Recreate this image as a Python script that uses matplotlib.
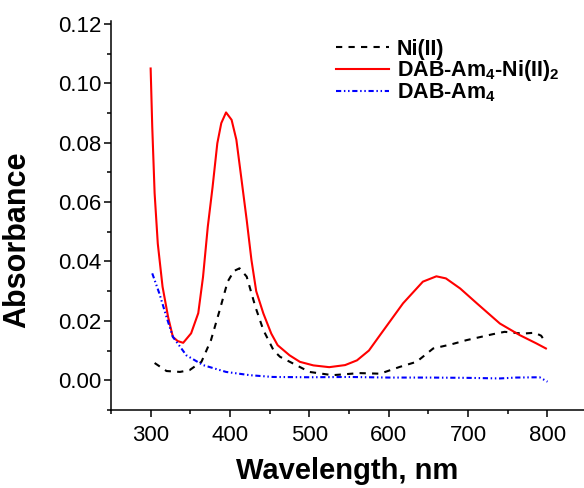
import matplotlib
matplotlib.use("Agg")
import matplotlib.pyplot as plt
from matplotlib.ticker import MultipleLocator, FormatStrFormatter

plt.rcParams["font.family"] = ["Liberation Sans", "DejaVu Sans"]
plt.rcParams["mathtext.fontset"] = "custom"
plt.rcParams["mathtext.rm"] = "Liberation Sans:bold"
plt.rcParams["mathtext.it"] = "Liberation Sans:bold"
plt.rcParams["mathtext.bf"] = "Liberation Sans:bold"

# Ni(II) alone
ni_wl = [305, 320, 337, 349, 364, 376, 387, 397, 405, 412, 421, 432, 442, 455,
         463, 479, 500, 529, 563, 589, 614, 635, 656, 679, 698, 731, 746, 769,
         784, 792, 798]
ni_abs = [0.0058, 0.0031, 0.0028, 0.0034, 0.0062, 0.0135, 0.0236, 0.0332, 0.0368,
          0.0377, 0.0349, 0.0247, 0.0169, 0.0100, 0.0079, 0.0057, 0.0028, 0.0017,
          0.0024, 0.0022, 0.0045, 0.0062, 0.0107, 0.0121, 0.0135, 0.0155, 0.0163,
          0.0157, 0.0160, 0.0150, 0.0126]

# DAB-Am4-Ni(II)2 complex
cx_wl = [300, 302, 305, 309, 315, 322, 328, 334, 341, 351, 360, 366, 372, 378,
         384, 389, 395, 402, 408, 414, 421, 427, 433, 442, 452, 460, 475, 488,
         505, 525, 545, 560, 575, 589, 618, 643, 660, 672, 690, 711, 740, 765,
         786, 798]
cx_abs = [0.105, 0.0855, 0.063, 0.046, 0.0315, 0.0213, 0.0146, 0.0132, 0.0126,
          0.0158, 0.0226, 0.0348, 0.0517, 0.0650, 0.0798, 0.0866, 0.0902, 0.0877,
          0.0810, 0.0686, 0.0540, 0.0405, 0.0300, 0.0225, 0.0157, 0.0118, 0.0084,
          0.0062, 0.0050, 0.0044, 0.0051, 0.0067, 0.0100, 0.0152, 0.0259, 0.0332,
          0.0350, 0.0343, 0.0309, 0.0259, 0.0191, 0.0152, 0.0124, 0.0107]

# DAB-Am4 dendrimer alone
dab_wl = [302, 311, 320, 328, 345, 366, 395, 425, 454, 500, 550, 600, 650,
          700, 740, 760, 790, 800]
dab_abs = [0.0360, 0.0292, 0.0213, 0.0146, 0.0084, 0.0051, 0.0028, 0.0017, 0.0011,
           0.0010, 0.0011, 0.0009, 0.0009, 0.0008, 0.0006, 0.0009, 0.0010, -0.0005]

fig = plt.figure(figsize=(5.84, 4.88), dpi=100)
ax = fig.add_axes([0.190, 0.160, 0.810, 0.797])

ax.plot(ni_wl, ni_abs, color="black", lw=1.5, linestyle=(0, (3, 3)), label="Ni(II)")
ax.plot(cx_wl, cx_abs, color="#ff0000", lw=1.5,
        label=r"DAB-Am$_4$-Ni(II)$_2$")
ax.plot(dab_wl, dab_abs, color="#0000ff", lw=1.5,
        linestyle=(0, (2.5, 1.3, 0.7, 1.3, 0.7, 1.3)), label=r"DAB-Am$_4$")

ax.set_xlim(250, 846)
ax.set_ylim(-0.01, 0.121)
ax.xaxis.set_major_locator(MultipleLocator(100))
ax.xaxis.set_minor_locator(MultipleLocator(50))
ax.yaxis.set_major_locator(MultipleLocator(0.02))
ax.yaxis.set_minor_locator(MultipleLocator(0.01))
ax.yaxis.set_major_formatter(FormatStrFormatter("%.2f"))

for side in ["top", "right"]:
    ax.spines[side].set_visible(False)
for side in ["left", "bottom"]:
    ax.spines[side].set_linewidth(1.1)

ax.tick_params(which="major", direction="out", length=5, width=1.1, labelsize=16)
ax.tick_params(which="minor", direction="out", length=3, width=1.1)
ax.tick_params(axis="y", pad=2)
ax.tick_params(axis="x", pad=6)

ax.set_xlabel("Wavelength, nm", fontsize=21, fontweight="bold", labelpad=8)
ax.set_ylabel("Absorbance", fontsize=22, fontweight="bold")
ax.yaxis.set_label_coords(-0.166, 0.437)

leg = ax.legend(loc="upper left", bbox_to_anchor=(0.475, 0.954), frameon=False,
                prop={"size": 15.5, "weight": "bold"}, handlelength=2.5,
                handletextpad=0.35, labelspacing=-0.08, borderpad=0, borderaxespad=0)

fig.savefig("out.png", dpi=100)
